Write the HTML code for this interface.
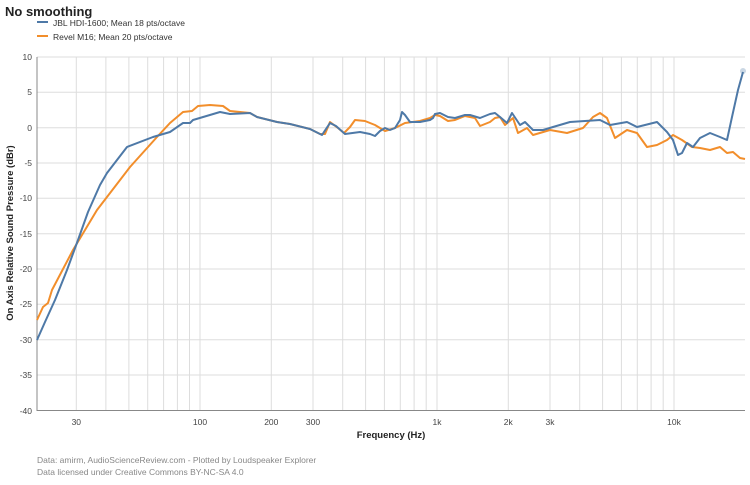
<!DOCTYPE html>
<html><head><meta charset="utf-8"><style>body{margin:0;background:#fff}svg{display:block;font-family:"Liberation Sans",Arial,sans-serif}</style></head><body>
<svg width="750" height="485" viewBox="0 0 750 485">
<text x="5" y="16" font-size="13" font-weight="bold" fill="#222">No smoothing</text>
<line x1="37" y1="22" x2="48" y2="22" stroke="#4e79a7" stroke-width="2"/>
<text x="53" y="26" font-size="8.5" fill="#333">JBL HDI-1600; Mean 18 pts/octave</text>
<line x1="37" y1="36" x2="48" y2="36" stroke="#f28e2b" stroke-width="2"/>
<text x="53" y="40" font-size="8.5" fill="#333">Revel M16; Mean 20 pts/octave</text>
<g stroke="#ddd" stroke-width="1">
<line x1="37" x2="745" y1="57" y2="57"/><line x1="37" x2="745" y1="92.3" y2="92.3"/><line x1="37" x2="745" y1="127.7" y2="127.7"/><line x1="37" x2="745" y1="163" y2="163"/><line x1="37" x2="745" y1="198.3" y2="198.3"/><line x1="37" x2="745" y1="233.7" y2="233.7"/><line x1="37" x2="745" y1="269" y2="269"/><line x1="37" x2="745" y1="304.3" y2="304.3"/><line x1="37" x2="745" y1="339.7" y2="339.7"/><line x1="37" x2="745" y1="375" y2="375"/>
<line x1="76.3" x2="76.3" y1="57" y2="410"/><line x1="105.9" x2="105.9" y1="57" y2="410"/><line x1="128.9" x2="128.9" y1="57" y2="410"/><line x1="147.7" x2="147.7" y1="57" y2="410"/><line x1="163.6" x2="163.6" y1="57" y2="410"/><line x1="177.4" x2="177.4" y1="57" y2="410"/><line x1="189.5" x2="189.5" y1="57" y2="410"/><line x1="200" x2="200" y1="57" y2="410"/>
<line x1="271.3" x2="271.3" y1="57" y2="410"/><line x1="313" x2="313" y1="57" y2="410"/><line x1="342.7" x2="342.7" y1="57" y2="410"/><line x1="365.6" x2="365.6" y1="57" y2="410"/><line x1="384.4" x2="384.4" y1="57" y2="410"/><line x1="400.3" x2="400.3" y1="57" y2="410"/><line x1="414.1" x2="414.1" y1="57" y2="410"/><line x1="426.2" x2="426.2" y1="57" y2="410"/><line x1="437" x2="437" y1="57" y2="410"/>
<line x1="508.3" x2="508.3" y1="57" y2="410"/><line x1="550" x2="550" y1="57" y2="410"/><line x1="579.7" x2="579.7" y1="57" y2="410"/><line x1="602.6" x2="602.6" y1="57" y2="410"/><line x1="621.4" x2="621.4" y1="57" y2="410"/><line x1="637.3" x2="637.3" y1="57" y2="410"/><line x1="651.1" x2="651.1" y1="57" y2="410"/><line x1="663.2" x2="663.2" y1="57" y2="410"/><line x1="674" x2="674" y1="57" y2="410"/>
</g>
<line x1="37" x2="37" y1="57" y2="411" stroke="#888"/><line x1="37" x2="745" y1="410.5" y2="410.5" stroke="#888"/>
<g font-size="8.5" fill="#444" text-anchor="end">
<text x="32" y="60">10</text><text x="32" y="95">5</text><text x="32" y="131">0</text><text x="32" y="166">-5</text><text x="32" y="201">-10</text><text x="32" y="237">-15</text><text x="32" y="272">-20</text><text x="32" y="307">-25</text><text x="32" y="343">-30</text><text x="32" y="378">-35</text><text x="32" y="414">-40</text>
</g>
<g font-size="8.5" fill="#444" text-anchor="middle">
<text x="76.3" y="425">30</text><text x="200" y="425">100</text><text x="271.3" y="425">200</text><text x="313" y="425">300</text><text x="437" y="425">1k</text><text x="508.3" y="425">2k</text><text x="550" y="425">3k</text><text x="674" y="425">10k</text>
</g>
<text x="391" y="438" font-size="9.5" font-weight="bold" text-anchor="middle" fill="#222">Frequency (Hz)</text>
<text transform="translate(13,233) rotate(-90)" font-size="9.5" font-weight="bold" text-anchor="middle" fill="#222">On Axis Relative Sound Pressure (dBr)</text>
<text x="37" y="463" font-size="8.5" fill="#888">Data: amirm, AudioScienceReview.com - Plotted by Loudspeaker Explorer</text>
<text x="37" y="475" font-size="8.5" fill="#888">Data licensed under Creative Commons BY-NC-SA 4.0</text>
<polyline fill="none" stroke="#f28e2b" stroke-width="2" stroke-linejoin="round" points="37,320 43,307 48,303 52,290 73,250 85,230 97,210 130,167 157,137 170,123 183,112 192,111 198,106 210,105 223,106 230,111 250,113 257,117 277,122 290,124 310,129 320,134 325,134 330,122 338,128 344,133 350,127 355,120 365,121 375,125 385,131 395,128 405,123 420,121 430,118 435,115 440,116 448,121 455,120 465,116 470,117 475,118 480,126 490,122 495,118 500,117 505,125 513,118 518,133 527,128 533,135 550,130 567,133 583,128 593,117 600,113 607,118 615,138 627,130 637,133 647,147 657,145 667,140 673,135 682,140 692,147 700,148 710,150 720,147 727,153 733,152 740,158 745,159"/>
<polyline fill="none" stroke="#4e79a7" stroke-width="2" stroke-linejoin="round" points="37,340 45,322 55,300 67,270 78,240 88,212 100,185 107,173 127,147 153,137 170,132 183,123 190,123 193,120 220,112 230,114 250,113 257,117 277,122 290,124 310,129 322,135 330,123 336,126 345,134 360,132 370,134 375,136 380,131 385,128 390,130 395,128 400,120 402,112 405,115 410,122 420,122 430,120 433,118 435,114 440,113 448,117 455,118 465,115 470,115 480,118 490,114 495,113 500,117 507,123 512,113 520,125 525,122 533,130 543,130 553,127 570,122 600,120 610,125 627,122 637,127 657,122 667,132 673,140 678,155 682,153 687,143 693,147 700,138 710,133 720,137 727,140 732,117 738,90 743,72"/>
<circle cx="743" cy="71" r="3" fill="#4e79a7" opacity="0.3"/>
</svg>
</body></html>
